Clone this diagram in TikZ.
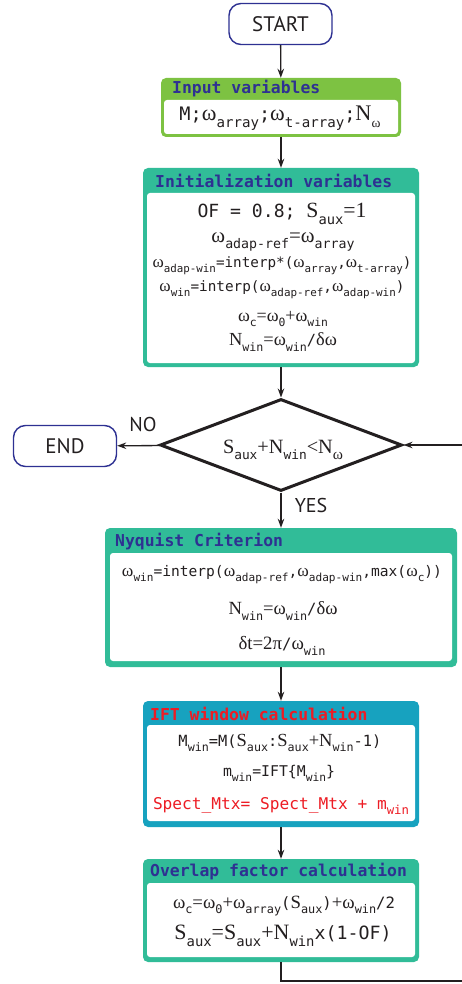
\documentclass[tikz,border=0pt]{standalone}
\usepackage{fontspec}
\usepackage{graphicx}
\usetikzlibrary{shapes.geometric,arrows.meta}
\setmainfont{PT Sans}
\newfontfamily\monof{DejaVu Sans Mono}
\newfontfamily\serf[Scale=1.2]{Liberation Serif}
\definecolor{navy}{HTML}{2E3192}
\definecolor{grn}{HTML}{7DC242}
\definecolor{tealb}{HTML}{31BC98}
\definecolor{cyanb}{HTML}{17A2BF}
\definecolor{redb}{HTML}{ED1C24}
\definecolor{ink}{HTML}{231F20}
\newcommand\om{{\serf ω}}
\newcommand\sbx[1]{\raisebox{-0.7ex}{\scalebox{0.76}{\monof #1}}}
\newcommand\fitw[2]{\resizebox{#1pt}{!}{#2}}
\tikzset{
  term/.style={draw=navy, line width=1.4pt, rounded corners=12pt, fill=white,
    minimum width=103pt, minimum height=41pt, inner sep=0pt, text=ink,
    font=\fontsize{21}{23}\selectfont},
  outerbox/.style={rounded corners=5pt, inner sep=0pt},
  innerbox/.style={fill=white, rounded corners=3pt, inner sep=0pt},
  ttl/.style={anchor=west, inner sep=0pt, text=navy,
    font=\monof\bfseries\fontsize{16.4}{18}\selectfont},
  txt/.style={inner sep=0pt, text=ink, font=\fontsize{14}{16}\selectfont},
  lbl/.style={inner sep=0pt, text=ink, font=\fontsize{20}{22}\selectfont},
  conn/.style={draw=ink, line width=1.3pt, -{Stealth[length=9pt,width=6.5pt]}},
  plain/.style={draw=ink, line width=1.3pt},
  decision/.style={diamond, draw=ink, line width=3pt, fill=white, inner sep=0pt,
    minimum width=242pt, minimum height=92pt}
}
\begin{document}
\begin{tikzpicture}[x=1pt,y=-1pt]
\useasboundingbox (0,0) rectangle (462,984);
\clip (0,0) rectangle (462,984);
\fill[white] (0,0) rectangle (462,984);

% START
\node[term] (start) at (280.5,24) {START};

% Input variables
\node[outerbox, fill=grn, minimum width=240pt, minimum height=59pt] (input) at (281,107.5) {};
\node[innerbox, minimum width=234pt, minimum height=34pt] (inputin) at (281,117) {};
\node[ttl] (inputt) at (172,89) {Input variables};
\node[txt] (in1) at (280,118) {\fitw{201}{\monof M;\om\sbx{array};\om\sbx{t-array};{\serf N}\sbx{\scalebox{0.8}{\serf ω}}}};

% Initialization
\node[outerbox, fill=tealb, minimum width=276pt, minimum height=199pt] (init) at (281,267.5) {};
\node[innerbox, minimum width=268pt, minimum height=170pt] (initin) at (281,278) {};
\node[ttl] (initt) at (155,181) {Initialization variables};
\node[txt] (i1) at (282,214) {\fitw{169}{{\monof OF = 0.8; }{\serf S}\sbx{aux}{\serf =1}}};
\node[txt] (i2) at (283,242) {\fitw{143}{\om\sbx{adap-ref}{\serf =}\om\sbx{array}}};
\node[txt] (i3) at (282,266) {\fitw{259}{\om\sbx{adap-win}{\monof =interp*(}\om\sbx{array}{\monof ,}\om\sbx{t-array}{\monof )}}};
\node[txt] (i4) at (282,290) {\fitw{245}{\om\sbx{win}{\monof =interp(}\om\sbx{adap-ref}{\monof ,}\om\sbx{adap-win}{\monof )}}};
\node[txt] (i5) at (283,319) {\fitw{90}{\om\sbx{c}{\serf =}\om\sbx{0}{\serf +}\om\sbx{win}}};
\node[txt] (i6) at (283,342) {\fitw{108}{{\serf N}\sbx{win}{\serf =}\om\sbx{win}{\monof /}{\serf δω}}};

% Decision
\node[decision] (dec) at (281,445) {};
\node[txt] (dect) at (283,450) {\fitw{120}{{\serf S}\sbx{aux}{\serf +N}\sbx{win}{\serf <N}\sbx{\serf ω}}};

% END
\node[term] (end) at (65,446) {END};
\node[lbl] (no) at (143,424) {NO};
\node[lbl] (yes) at (311,505) {YES};

% Nyquist
\node[outerbox, fill=tealb, minimum width=352pt, minimum height=139pt] (nyq) at (281,597.5) {};
\node[innerbox, minimum width=342pt, minimum height=108pt] (nyqin) at (281,607) {};
\node[ttl] (nyqt) at (115,542) {Nyquist Criterion};
\node[txt] (n1) at (282,575) {\fitw{320}{\om\sbx{win}{\monof =interp(}\om\sbx{adap-ref}{\monof ,}\om\sbx{adap-win}{\monof ,max(}\om\sbx{c}{\monof ))}}};
\node[txt] (n2) at (283,611) {\fitw{109}{{\serf N}\sbx{win}{\serf =}\om\sbx{win}{\monof /}{\serf δω}}};
\node[txt] (n3) at (282,646) {\fitw{87}{{\serf δt=2π}{\monof /}\om\sbx{win}}};

% IFT
\node[outerbox, fill=cyanb, minimum width=276pt, minimum height=126pt] (ift) at (281,764) {};
\node[innerbox, minimum width=268pt, minimum height=96pt] (iftin) at (281,773) {};
\node[ttl, text=redb] (iftt) at (150,714) {IFT window calculation};
\node[txt] (f1) at (280,743) {\fitw{203}{{\monof M}\sbx{win}{\monof =M(}{\serf S}\sbx{aux}{\monof :}{\serf S}\sbx{aux}{\serf +N}\sbx{win}{\monof -1)}}};
\node[txt] (f2) at (279,773) {\fitw{112}{{\monof m}\sbx{win}{\monof =IFT\{M}\sbx{win}{\monof \}}}};
\node[txt, text=redb] (f3) at (281,806) {\fitw{256}{{\monof Spect\_Mtx= Spect\_Mtx + m}\sbx{win}}};

% Overlap
\node[outerbox, fill=tealb, minimum width=276pt, minimum height=103pt] (ovl) at (281,910.5) {};
\node[innerbox, minimum width=268pt, minimum height=74pt] (ovlin) at (281,920) {};
\node[ttl] (ovlt) at (150,872) {Overlap factor calculation};
\node[txt] (o1) at (284,906) {\fitw{222}{\om\sbx{c}{\serf =}\om\sbx{0}{\serf +}\om\sbx{array}{\monof (}{\serf S}\sbx{aux}{\monof )}{\serf +}\om\sbx{win}{\monof /2}}};
\node[txt] (o2) at (283,936) {\fitw{217}{{\serf S}\sbx{aux}{\serf =S}\sbx{aux}{\serf +N}\sbx{win}{\monof x(1-OF)}}};

% connectors
\coordinate (c1) at (281,981);
\coordinate (c2) at (470,981);
\coordinate (c3) at (470,445);
\draw[conn] (start) -- (input);
\draw[conn] (input) -- (init);
\draw[conn] (init) -- (dec);
\draw[conn] (dec) -- (end);
\draw[conn] (dec) -- (nyq);
\draw[conn] (nyq) -- (ift);
\draw[conn] (ift) -- (ovl);
\draw[plain] (ovl.south) -- (c1) -- (c2) -- (c3);
\draw[conn] (c3) -- (dec.east);
\end{tikzpicture}
\end{document}
